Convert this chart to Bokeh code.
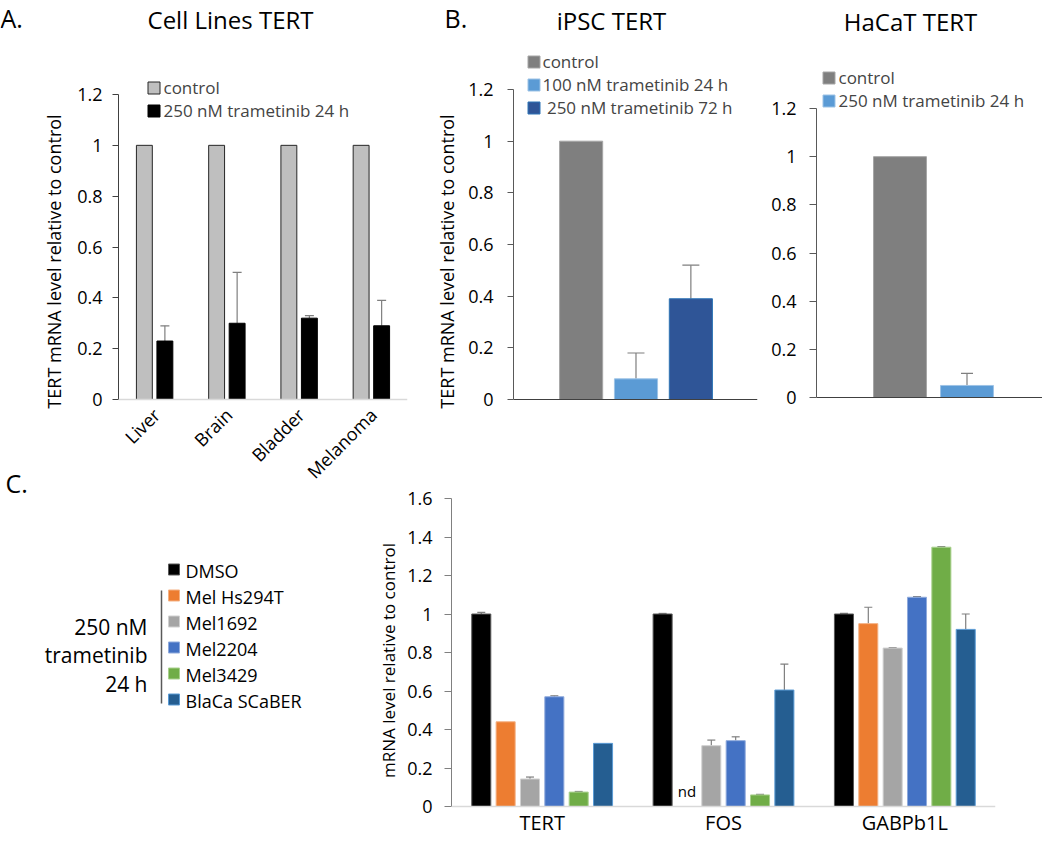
import math
from bokeh.plotting import figure
from bokeh.models import (Range1d, FactorRange, ColumnDataSource, Whisker, TeeHead, Span, Title,
                          Legend, LegendItem, FixedTicker, CustomJSTickFormatter)
from bokeh.layouts import row, column
from bokeh.transform import dodge
from bokeh.core.properties import value
from bokeh.embed import file_html
from bokeh.resources import INLINE

FONT = "Open Sans"

# ---------------- data ----------------
# Panel A: Cell Lines TERT
a_cells = ["Liver", "Brain", "Bladder", "Melanoma"]
a_series = ["control", "250 nM trametinib 24 h"]
a_control = [1.0, 1.0, 1.0, 1.0]
a_tram = [0.23, 0.30, 0.32, 0.29]
a_tram_err = [0.06, 0.20, 0.01, 0.10]
a_yticks = [0, 0.2, 0.4, 0.6, 0.8, 1, 1.2]

# Panel B: iPSC TERT
b_series = ["control", "100 nM trametinib 24 h", " 250 nM trametinib 72 h"]
b_values = [1.0, 0.08, 0.39]
b_err = [0.0, 0.10, 0.13]

# Panel B: HaCaT TERT
h_series = ["control", "250 nM trametinib 24 h"]
h_values = [1.0, 0.05]
h_err = [0.0, 0.05]

# Panel C
c_genes = ["TERT", "FOS", "GABPb1L"]
c_series = ["DMSO", "Mel Hs294T", "Mel1692", "Mel2204", "Mel3429", "BlaCa SCaBER"]
c_dmso = [1.0, 1.0, 1.0]
c_hs294t = [0.44, None, 0.95]          # None = not detected (nd)
c_mel1692 = [0.143, 0.316, 0.823]
c_mel2204 = [0.57, 0.342, 1.087]
c_mel3429 = [0.075, 0.06, 1.347]
c_scaber = [0.328, 0.605, 0.92]
c_dmso_err = [0.008, 0.003, 0.003]
c_hs294t_err = [0.0, 0.0, 0.085]
c_mel1692_err = [0.01, 0.029, 0.003]
c_mel2204_err = [0.005, 0.02, 0.003]
c_mel3429_err = [0.003, 0.003, 0.003]
c_scaber_err = [0.0, 0.135, 0.08]
c_yticks = [0, 0.2, 0.4, 0.6, 0.8, 1, 1.2, 1.4, 1.6]
c_group_label = ["250 nM", "trametinib", "24 h"]

titles = ["A.", "Cell Lines TERT", "B.", "iPSC TERT", "HaCaT TERT", "C."]
y_label_ab = "TERT mRNA level relative to control"
y_label_c = "mRNA level relative to control"

# ---------------- styles ----------------
b_colors = ["#7F7F7F", "#5B9BD5", "#2F5597"]
b_lines = ["#A6A6A6", "#9DC3E6", "#2E75B6"]
h_colors = ["#7F7F7F", "#5B9BD5"]
h_lines = ["#A6A6A6", "#9DC3E6"]
c_colors = ["#000000", "#ED7D31", "#A5A5A5", "#4472C4", "#70AD47", "#255E91"]
c_lines = ["#595959", "#F4B183", "#D0D0D0", "#8FAADC", "#A9D18E", "#5B9BD5"]
ERR = "#7F7F7F"

# ---------------- layout (page pixels) ----------------
TOTAL_W = 1042
STRIP_H = 38            # titles strip: y 0 .. 38
ROW1_END = 484          # top row: y 38 .. 484
ROW2_END = 836          # bottom row: y 484 .. 836
ROW1_H = ROW1_END - STRIP_H
ROW2_H = ROW2_END - ROW1_END
X0 = 28                 # narrow left column for the "C." panel letter


def y_range(ymax, top_px, zero_px, frame_top, frame_bottom):
    ppu = (zero_px - top_px) / ymax
    return Range1d(-(frame_bottom - zero_px) / ppu, (zero_px - frame_top) / ppu)


def base_fig(w, h, xr, yr, l, r):
    p = figure(width=w, height=h, x_range=xr, y_range=yr, output_backend="svg",
               toolbar_location=None, min_border_left=l, min_border_right=r,
               min_border_top=0, min_border_bottom=0)
    p.outline_line_color = None
    p.xgrid.grid_line_color = None
    p.ygrid.grid_line_color = None
    p.background_fill_color = "white"
    p.border_fill_color = "white"
    p.xaxis.visible = False
    return p


def blank_fig(w, h):
    p = figure(width=w, height=h, x_range=Range1d(0, w), y_range=Range1d(h, 0),
               output_backend="svg", toolbar_location=None,
               min_border_left=0, min_border_right=0, min_border_top=0, min_border_bottom=0)
    p.outline_line_color = None
    p.grid.grid_line_color = None
    p.xaxis.visible = False
    p.yaxis.visible = False
    p.background_fill_color = "white"
    p.border_fill_color = "white"
    return p


def style_y(p, ticks, color, standoff, tick_out=6):
    ax = p.yaxis[0]
    ax.ticker = FixedTicker(ticks=ticks)
    ax.bounds = (ticks[0], ticks[-1])
    ax.formatter = CustomJSTickFormatter(code="return String(Math.round(tick*10)/10);")
    ax.axis_line_color = color
    ax.major_tick_line_color = color
    ax.major_tick_in = 0
    ax.major_tick_out = tick_out
    ax.minor_tick_line_color = None
    ax.major_label_text_font = FONT
    ax.major_label_text_font_size = "18px"
    ax.major_label_text_color = "black"
    ax.major_label_standoff = standoff


def y_title(p, text, size, standoff, offset):
    p.add_layout(Title(text=text, align="center", offset=offset, standoff=standoff,
                       text_font=FONT, text_font_size=size, text_font_style="normal",
                       text_color="black"), "left")


def make_legend(items, x, y, sp, size="17px", standoff=3):
    leg = Legend(items=items, location=(x, y), padding=0, margin=0,
                 border_line_color=None, background_fill_alpha=0,
                 label_text_font=FONT, label_text_font_size=size,
                 label_height=18, glyph_height=15, glyph_width=15,
                 label_standoff=standoff)
    try:
        leg.spacing = sp
    except Exception:
        leg.spacing = 0
    return leg


def keep_lead_space(s):
    n = len(s) - len(s.lstrip(" "))
    return "\u00a0" * n + s.lstrip(" ")


# ---------------- title strip ----------------
pS = blank_fig(TOTAL_W, STRIP_H)
pS.text(x=[0, 444], y=[17, 17], text=[titles[0], titles[2]], text_font=value(FONT),
        text_font_size="25px", text_align="left", text_baseline="middle", text_color="black")
pS.text(x=[230, 611, 910], y=[19, 20, 21], text=[titles[1], titles[3], titles[4]],
        text_font=value(FONT), text_font_size="24px", text_align="center",
        text_baseline="middle", text_color="black")

# ---------------- narrow left column (panel letter C.) ----------------
pN = blank_fig(X0, ROW2_END - STRIP_H)
pN.text(x=[5], y=[482.5 - STRIP_H], text=[titles[5]], text_font=value(FONT),
        text_font_size="25px", text_align="left", text_baseline="middle", text_color="black")

# ---------------- Panel A ----------------
XA1 = 425
LA, RA = 118, 407
pA = base_fig(XA1 - X0, ROW1_H, FactorRange(*a_cells, range_padding=0),
              y_range(1.2, 94, 399, STRIP_H, ROW1_END), LA - X0, XA1 - RA)
srcA = ColumnDataSource(dict(cell=a_cells, control=a_control, tram=a_tram,
                             upper=[v + e for v, e in zip(a_tram, a_tram_err)]))
rA1 = pA.vbar(x=dodge("cell", -0.142, range=pA.x_range), top="control", width=0.22,
              source=srcA, fill_color="#BFBFBF", line_color="#262626", line_width=1)
rA2 = pA.vbar(x=dodge("cell", 0.142, range=pA.x_range), top="tram", width=0.22,
              source=srcA, fill_color="#000000", line_color="#000000")
pA.add_layout(Whisker(source=srcA, base=dodge("cell", 0.142, range=pA.x_range),
                      upper="upper", lower="tram", dimension="height",
                      line_color=ERR, line_width=1.2,
                      upper_head=TeeHead(size=9, line_color=ERR, line_width=1.2),
                      lower_head=None))
pA.add_layout(Span(location=0, dimension="width", line_color="#D9D9D9", line_width=1.5))
pA.text(x=a_cells, y=[0] * len(a_cells), text=a_cells, angle=math.pi / 4, y_offset=12,
        x_offset=2, text_font=value(FONT), text_font_size="18px", text_align="right",
        text_baseline="middle", text_color="black")
style_y(pA, a_yticks, "#404040", 10)
y_title(pA, y_label_ab, "18px", 18, (STRIP_H + ROW1_END) / 2 - 247)
pA.add_layout(make_legend([LegendItem(label=a_series[0], renderers=[rA1]),
                           LegendItem(label=a_series[1], renderers=[rA2])],
                          145.5 - LA, ROW1_END - 121.5, -1, standoff=3))

# ---------------- Panel B iPSC ----------------
XB0, XB1 = XA1, 760
LB, RB = 508, 757
xB = list(range(len(b_series)))
bx_c, b_pitch = 633, 56.0
pB = base_fig(XB1 - XB0, ROW1_H, Range1d(1 - (bx_c - LB) / b_pitch, 1 + (RB - bx_c) / b_pitch),
              y_range(1.2, 89, 399, STRIP_H, ROW1_END), LB - XB0, XB1 - RB)
srcB = ColumnDataSource(dict(x=xB, top=b_values, color=b_colors, line=b_lines))
rB = pB.vbar(x="x", top="top", width=0.786, source=srcB, fill_color="color", line_color="line")
eb = [i for i in xB if b_err[i] > 0]
srcBe = ColumnDataSource(dict(x=[xB[i] for i in eb], lower=[b_values[i] for i in eb],
                              upper=[b_values[i] + b_err[i] for i in eb]))
pB.add_layout(Whisker(source=srcBe, base="x", upper="upper", lower="lower", dimension="height",
                      line_color=ERR, line_width=1.2,
                      upper_head=TeeHead(size=17, line_color=ERR, line_width=1.2), lower_head=None))
pB.add_layout(Span(location=0, dimension="width", line_color="#404040", line_width=1.2))
style_y(pB, a_yticks, "#595959", 14)
y_title(pB, y_label_ab, "18px", 14, (STRIP_H + ROW1_END) / 2 - 241)
pB.add_layout(make_legend([LegendItem(label=keep_lead_space(b_series[i]), renderers=[rB], index=i)
                           for i in xB],
                          520.5 - LB, ROW1_END - 118.5, -2, standoff=2))

# ---------------- Panel B HaCaT ----------------
XH0 = XB1
LH = 816
xH = list(range(len(h_series)))
hx_c, h_pitch = 933, 67.0
pH = base_fig(TOTAL_W - XH0, ROW1_H,
              Range1d(0.5 - (hx_c - LH) / h_pitch, 0.5 + (TOTAL_W - hx_c) / h_pitch),
              y_range(1.2, 108, 397, STRIP_H, ROW1_END), LH - XH0, 0)
srcH = ColumnDataSource(dict(x=xH, top=h_values, color=h_colors, line=h_lines))
rH = pH.vbar(x="x", top="top", width=0.79, source=srcH, fill_color="color", line_color="line")
eh = [i for i in xH if h_err[i] > 0]
srcHe = ColumnDataSource(dict(x=[xH[i] for i in eh], lower=[h_values[i] for i in eh],
                              upper=[h_values[i] + h_err[i] for i in eh]))
pH.add_layout(Whisker(source=srcHe, base="x", upper="upper", lower="lower", dimension="height",
                      line_color=ERR, line_width=1.2,
                      upper_head=TeeHead(size=12, line_color=ERR, line_width=1.2), lower_head=None))
pH.add_layout(Span(location=0, dimension="width", line_color="#404040", line_width=1.2))
style_y(pH, a_yticks, "#595959", 13, tick_out=7)
pH.add_layout(make_legend([LegendItem(label=h_series[i], renderers=[rH], index=i) for i in xH],
                          820.5 - LH, ROW1_END - 111.5, 0, standoff=3))

# ---------------- Panel C legend ----------------
XL1 = 340
pL = blank_fig(XL1 - X0, ROW2_H)
Y2 = ROW1_END
rows_y = [569 - Y2 + 26 * i for i in range(len(c_series))]
pL.rect(x=173.5 - X0, y=rows_y, width=11, height=11, fill_color=c_colors, line_color=c_lines)
pL.text(x=185 - X0, y=[v + 1 for v in rows_y], text=c_series, text_font=value(FONT),
        text_font_size="18px", text_baseline="middle", text_align="left", text_color="black")
pL.segment(x0=161 - X0, y0=590 - Y2, x1=161 - X0, y1=703 - Y2, line_color="#595959", line_width=1.5)
pL.text(x=147 - X0, y=[626 - Y2 + 28.5 * i for i in range(len(c_group_label))], text=c_group_label,
        text_font=value(FONT), text_font_size="21px", text_baseline="middle",
        text_align="right", text_color="black")

# ---------------- Panel C chart ----------------
LC, RC = 451, 995
ZC = 806
pC = base_fig(TOTAL_W - XL1, ROW2_H, FactorRange(*c_genes, range_padding=0),
              y_range(1.6, 498, ZC, ROW1_END, ROW2_END), LC - XL1, TOTAL_W - RC)
c_vals = [c_dmso, c_hs294t, c_mel1692, c_mel2204, c_mel3429, c_scaber]
c_errs = [c_dmso_err, c_hs294t_err, c_mel1692_err, c_mel2204_err, c_mel3429_err, c_scaber_err]
pitch, bw = 0.1343, 0.105
for i, (name, vals, errs) in enumerate(zip(c_series, c_vals, c_errs)):
    off = (i - (len(c_series) - 1) / 2) * pitch
    tops = [float("nan") if v is None else v for v in vals]
    src = ColumnDataSource(dict(gene=c_genes, top=tops))
    pC.vbar(x=dodge("gene", off, range=pC.x_range), top="top", width=bw, source=src,
            fill_color=c_colors[i], line_color=c_lines[i], line_width=1)
    idx = [k for k in range(len(c_genes)) if vals[k] is not None and errs[k] > 0]
    if idx:
        esrc = ColumnDataSource(dict(gene=[c_genes[k] for k in idx],
                                     lower=[vals[k] for k in idx],
                                     upper=[vals[k] + errs[k] for k in idx]))
        pC.add_layout(Whisker(source=esrc, base=dodge("gene", off, range=pC.x_range),
                              upper="upper", lower="lower", dimension="height",
                              line_color=ERR, line_width=1.2,
                              upper_head=TeeHead(size=8, line_color=ERR, line_width=1.2),
                              lower_head=None))
    nd = [c_genes[k] for k in range(len(c_genes)) if vals[k] is None]
    if nd:
        nd_src = ColumnDataSource(dict(gene=nd, y=[0] * len(nd), label=["nd"] * len(nd)))
        pC.text(x=dodge("gene", off, range=pC.x_range), y="y", text="label", source=nd_src,
                y_offset=-16, text_font=value(FONT), text_font_size="15px",
                text_align="center", text_baseline="middle", text_color="black")
pC.add_layout(Span(location=0, dimension="width", line_color="#D9D9D9", line_width=1.5))
pC.text(x=c_genes, y=[0] * len(c_genes), text=c_genes, y_offset=16, text_font=value(FONT),
        text_font_size="20px", text_align="center", text_baseline="middle", text_color="black")
style_y(pC, c_yticks, "#808080", 12, tick_out=7)
y_title(pC, y_label_c, "17px", 10, (ROW1_END + ROW2_END) / 2 - 637)

layout = column(pS, row(pN, column(row(pA, pB, pH), row(pL, pC))))
open("out.html", "w").write(file_html(layout, INLINE))
